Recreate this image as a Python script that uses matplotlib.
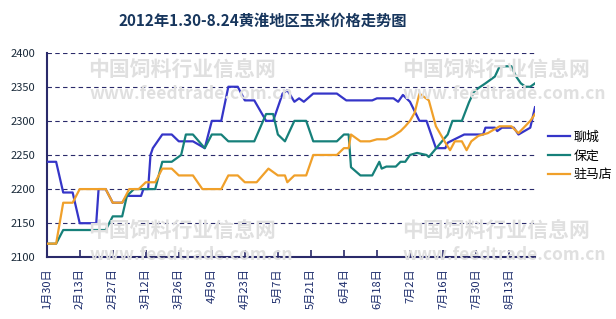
import matplotlib
matplotlib.use('Agg')
import matplotlib.pyplot as plt

plt.rcParams['font.family'] = ['Noto Sans CJK SC', 'DejaVu Sans']

# days counted from 1月30日 (2012)
tick_days = [0, 14, 28, 42, 56, 70, 84, 98, 112, 126, 140, 154, 168, 182, 196]
tick_labels = ['1月30日', '2月13日', '2月27日', '3月12日', '3月26日', '4月9日', '4月23日',
               '5月7日', '5月21日', '6月4日', '6月18日', '7月2日', '7月16日', '7月30日', '8月13日']

# 聊城
lc_day = [0, 4, 7, 11, 14, 21, 22, 25, 28, 32, 34, 40, 41, 43, 44, 45, 49, 53, 56, 62,
          67, 70, 74, 77, 81, 84, 88, 93, 96, 100, 102, 105, 107, 109, 113, 123, 127,
          138, 140, 147, 149, 151, 154, 158, 161, 165, 169, 170, 177, 185, 186, 190,
          191, 193, 198, 200, 205, 207]
lc_val = [2240, 2240, 2195, 2195, 2150, 2150, 2200, 2200, 2180, 2180, 2190, 2190, 2200,
          2200, 2250, 2260, 2280, 2280, 2270, 2270,
          2260, 2300, 2300, 2350, 2350, 2330, 2330, 2300, 2300, 2340, 2345, 2328, 2333,
          2328, 2340, 2340, 2330,
          2330, 2333, 2333, 2328, 2338, 2328, 2300, 2300, 2260, 2260, 2268, 2280, 2280,
          2290, 2290, 2285, 2290, 2290, 2280, 2290, 2320]

# 保定
bd_day = [0, 4, 7, 25, 28, 32, 34, 37, 46, 49, 53, 57, 59, 62,
          67, 70, 74, 77, 88, 93, 96, 98, 101, 105, 110, 113, 123, 126, 128, 129,
          133, 138, 141, 142, 144, 148, 150, 152, 154, 157, 161, 162, 170, 172, 176,
          179, 181, 183, 186, 190, 192, 197, 199, 201, 203, 205, 207]
bd_val = [2120, 2120, 2140, 2140, 2160, 2160, 2190, 2200, 2200, 2240, 2240, 2250, 2280, 2280,
          2260, 2280, 2280, 2270, 2270, 2310, 2310, 2280, 2270, 2300, 2300, 2270, 2270,
          2280, 2280, 2232,
          2220, 2220, 2240, 2230, 2233, 2233, 2240, 2240, 2250, 2253, 2250, 2247, 2280,
          2300, 2300,
          2327, 2342, 2348, 2355, 2365, 2380, 2380, 2365, 2355, 2350, 2350, 2355]

# 驻马店
zmd_day = [0, 4, 7, 11, 14, 25, 28, 32, 35, 39, 42, 46, 49, 53, 56, 62, 66, 74, 77, 81,
           84, 89, 94, 98, 101, 102, 105, 110, 113, 123, 126, 128, 129, 133, 137, 140,
           144, 147, 150, 152, 154, 156, 158, 162, 165, 167, 169, 171, 173, 176, 178,
           180, 183, 187, 192, 197, 200, 205, 207]
zmd_val = [2120, 2120, 2180, 2180, 2200, 2200, 2180, 2180, 2200, 2200, 2210, 2210, 2230,
           2230, 2220, 2220, 2200, 2200, 2220, 2220,
           2210, 2210, 2230, 2220, 2220, 2210, 2220, 2220, 2250, 2250, 2260, 2260, 2280,
           2270, 2270, 2273,
           2273, 2278, 2285, 2292, 2300, 2312, 2340, 2330, 2292, 2280, 2268, 2257, 2270,
           2270, 2257,
           2270, 2278, 2282, 2292, 2292, 2282, 2300, 2310]

fig = plt.figure(figsize=(6.16, 3.19), dpi=100)
ax = fig.add_axes([0.0758, 0.1934, 0.7927, 0.6416])

# faint site watermarks
wm = '#e0e0e0'
for x0, y0 in [(0.143, 0.76), (0.652, 0.76), (0.143, 0.255), (0.652, 0.255)]:
    fig.text(x0, y0, '中国饲料行业信息网', fontsize=15, fontweight='bold', color=wm, zorder=0)
    fig.text(x0 + 0.002, y0 - 0.07, 'www.feedtrade.com.cn', fontsize=12.5, fontweight='bold',
             color=wm, zorder=0)
ax.patch.set_alpha(0)

ax.plot(lc_day, lc_val, color='#3535c8', lw=1.6, label='聊城', zorder=3)
ax.plot(bd_day, bd_val, color='#16807a', lw=1.6, label='保定', zorder=3)
ax.plot(zmd_day, zmd_val, color='#f0a02a', lw=1.6, label='驻马店', zorder=3)

ax.set_xlim(0, 207)
ax.set_ylim(2100, 2400)
ax.set_yticks(range(2100, 2401, 50))
ax.set_xticks(tick_days)
ax.set_xticklabels(tick_labels, rotation=90, fontsize=8, color='#1a2a6a')
ax.tick_params(axis='x', direction='in', length=5, width=1.2, color='#2a2a6a', pad=8)
ax.tick_params(axis='y', length=0, pad=8, labelsize=8, labelcolor='#1a2a3a')

ax.grid(axis='y', linestyle=(0, (4, 3)), color='#2a2a6a', lw=0.8)
for s in ['top', 'right']:
    ax.spines[s].set_visible(False)
for s in ['left', 'bottom']:
    ax.spines[s].set_color('#2a2a6a')
    ax.spines[s].set_linewidth(1.5)

fig.suptitle('2012年1.30-8.24黄淮地区玉米价格走势图', x=0.427, y=0.96, fontsize=11,
             fontweight='bold', color='#17365d')

ax.legend(loc='center left', bbox_to_anchor=(1.008, 0.495), frameon=False, fontsize=9.3,
          handlelength=1.7, handletextpad=0.3, labelspacing=0.45, borderaxespad=0.3)

fig.savefig('out.png', dpi=100)
